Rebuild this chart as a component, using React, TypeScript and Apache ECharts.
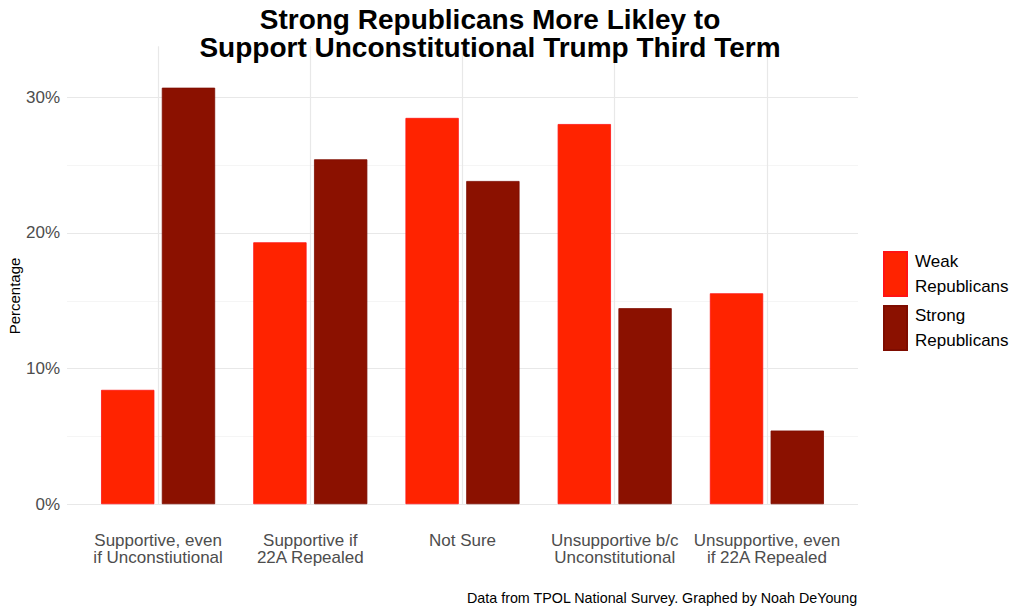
import React, { useEffect, useRef } from "react";
import * as echarts from "echarts";

const categories = [
  "Supportive, even\nif Unconstiutional",
  "Supportive if\n22A Repealed",
  "Not Sure",
  "Unsupportive b/c\nUnconstitutional",
  "Unsupportive, even\nif 22A Repealed",
];
const weakRepublicans = [8.43, 19.31, 28.48, 28.03, 15.55];
const strongRepublicans = [30.71, 25.43, 23.83, 14.45, 5.43];
const seriesNames = ["Weak\nRepublicans", "Strong\nRepublicans"];
const yTicks = [0, 10, 20, 30];

const FONT = "'Liberation Sans', Arial, Helvetica, sans-serif";

export default function App() {
  const ref = useRef<HTMLDivElement>(null);
  useEffect(() => {
    if (!ref.current) return;
    const chart = echarts.init(ref.current, undefined, { renderer: "svg" });
    const option: any = {
      animation: false,
      backgroundColor: "#ffffff",
      textStyle: { fontFamily: FONT },
      title: {
        text: "Strong Republicans More Likley to\nSupport Unconstitutional Trump Third Term",
        left: 485,
        top: 0,
        textAlign: "center",
        textStyle: {
          fontFamily: FONT,
          fontSize: 28,
          fontWeight: "bold",
          color: "#000000",
          lineHeight: 28,
        },
      },
      legend: {
        orient: "vertical",
        left: 883,
        top: 249,
        padding: 0,
        itemWidth: 23,
        itemHeight: 44,
        itemGap: 4,
        icon: "rect",
        data: seriesNames,
        textStyle: { fontFamily: FONT, fontSize: 17, lineHeight: 25, color: "#000000", padding: [0, 0, 0, 3] },
      },
      graphic: [
        {
          type: "text",
          rotation: Math.PI / 2,
          style: {
            text: "Percentage",
            font: `15px ${FONT}`,
            fill: "#000000",
            textAlign: "center",
            textVerticalAlign: "middle",
          },
          x: 14,
          y: 296,
        },
        {
          type: "text",
          right: 166,
          top: 591,
          style: {
            text: "Data from TPOL National Survey. Graphed by Noah DeYoung",
            font: `14.3px ${FONT}`,
            fill: "#000000",
          },
        },
      ],
      grid: [
        { left: 67, width: 791, top: 97.33, height: 407, containLabel: false },
        { left: 82, width: 761, top: 67, height: 458, containLabel: false },
      ],
      xAxis: [
        { type: "value", gridIndex: 0, min: 0, max: 1, show: false },
        {
          type: "category",
          gridIndex: 1,
          data: categories,
          axisLine: { show: false },
          axisTick: {
            show: true,
            alignWithLabel: true,
            inside: true,
            interval: 0,
            length: 458,
            lineStyle: { color: "#e8e8e8", width: 1.2 },
          },
          axisLabel: {
            interval: 0,
            fontFamily: FONT,
            fontSize: 17,
            lineHeight: 17,
            color: "#4d4d4d",
            margin: 7,
          },
          splitLine: { show: false },
        },
      ],
      yAxis: [
        {
          type: "value",
          gridIndex: 0,
          min: yTicks[0],
          max: yTicks[yTicks.length - 1],
          interval: 10,
          axisLine: { show: false },
          axisTick: { show: false },
          axisLabel: {
            formatter: "{value}%",
            fontFamily: FONT,
            fontSize: 17,
            color: "#4d4d4d",
            margin: 7,
          },
          splitLine: { show: true, lineStyle: { color: "#e8e8e8", width: 1.2 } },
          minorTick: { show: false, splitNumber: 2 },
          minorSplitLine: { show: true, lineStyle: { color: "#f2f2f2", width: 0.8 } },
        },
        {
          type: "value",
          gridIndex: 1,
          min: -1.535,
          max: 32.235,
          show: false,
        },
      ],
      series: [
        {
          name: seriesNames[0],
          type: "bar",
          xAxisIndex: 1,
          yAxisIndex: 1,
          data: weakRepublicans,
          barWidth: 53.3,
          barGap: "14%",
          itemStyle: { color: "#FF2300", borderColor: "#FF1414", borderWidth: 0.8 },
        },
        {
          name: seriesNames[1],
          type: "bar",
          xAxisIndex: 1,
          yAxisIndex: 1,
          data: strongRepublicans,
          barWidth: 53.3,
          barGap: "14%",
          itemStyle: { color: "#8B1100", borderColor: "#7E0C00", borderWidth: 0.8 },
        },
      ],
    };
    chart.setOption(option);
    return () => chart.dispose();
  }, []);
  return (
    <div
      ref={ref}
      style={{ position: "absolute", left: 0, top: 0, width: 1024, height: 614 }}
    />
  );
}
